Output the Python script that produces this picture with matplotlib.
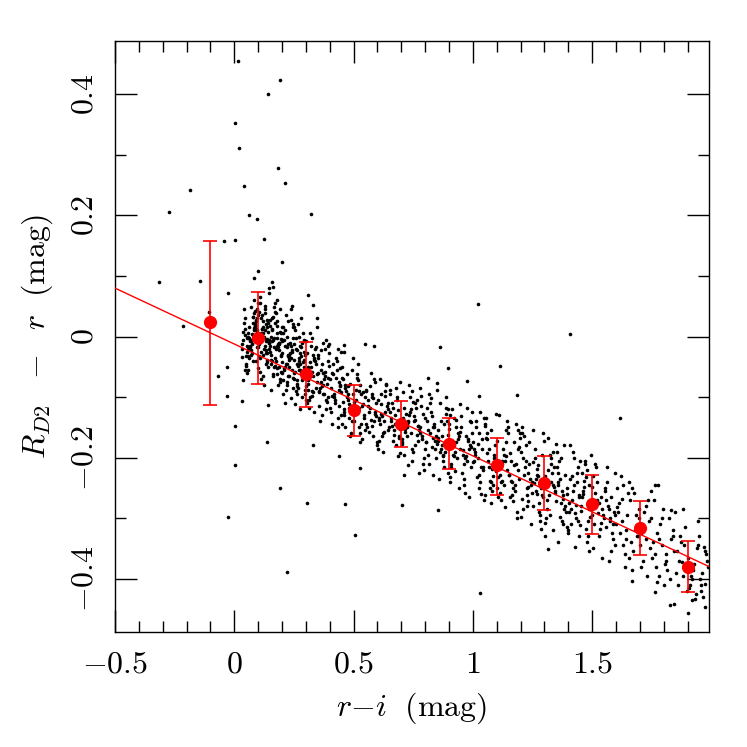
import matplotlib
matplotlib.use("Agg")
import matplotlib.pyplot as plt
from matplotlib.ticker import MultipleLocator, FuncFormatter
import numpy as np

# binned means (red points) with lower / upper ends of the error bars
bin_x = [-0.1, 0.1, 0.3, 0.5, 0.7, 0.9, 1.1, 1.3, 1.5, 1.7, 1.9]
bin_y = [0.024, -0.002, -0.062, -0.121, -0.144, -0.177, -0.213, -0.242, -0.277, -0.316, -0.380]
bin_lo = [-0.113, -0.079, -0.116, -0.164, -0.182, -0.219, -0.261, -0.287, -0.326, -0.361, -0.422]
bin_hi = [0.158, 0.073, -0.009, -0.080, -0.107, -0.134, -0.167, -0.197, -0.229, -0.271, -0.338]

# linear fit: slope, intercept
fit_slope = -0.1847
fit_icpt = -0.0124

# individual stars, "r-i,R-r" in milli-mag
band_mmag = """
44,12 33,-20 47,30 38,-5 41,45 35,8 49,-32 40,22 31,-12 46,2
63,15 91,-40 56,5 79,32 97,-18 70,48 52,-3 86,20 74,-28 94,10 59,-55 81,38 67,-8
89,25 54,-15 77,2 99,55 61,-35 84,14 72,-22 95,30 65,-5 51,-48 88,18 76,-12
87,42 58,0 72,-30 95,8 53,-60 80,22 66,-18 98,35 61,-2 77,-40 90,12 55,-25 83,60
69,-8 93,28 51,-45 75,4 64,-15 86,18 59,-32 96,45 71,-6 81,10 56,-20 78,32
124,-2 102,40 139,-38 115,12 146,-20 107,65 131,-8 119,25 143,-50 111,5 135,-28 127,50
104,-12 148,18 121,-65 113,30 137,-4 109,-35 129,10 144,72 101,-18 117,35 133,-45 123,0 141,22
113,-25 141,8 106,-58 129,45 147,-10 120,15 102,-32 136,28 124,-80 144,-6 109,55 131,-22
117,12 139,-42 104,2 127,38 149,-15 111,-70 134,20 122,-30 145,80 115,-2 101,-52 138,16 126,-20
112,-5 127,-15 138,-28 144,-10 121,6
187,-10 158,30 172,-48 195,5 153,-30 180,60 166,-18 198,15 161,-62 177,-2 190,45 155,-38
183,-12 169,22 193,-75 151,-25 175,38 164,-5 186,-50 159,10 196,-30 171,55 181,-15 156,-88 178,25
174,-40 152,0 189,-22 165,48 196,-58 157,-8 181,18 169,-35 193,-70 161,32 185,-18 177,5
154,-45 198,-28 171,40 163,-65 187,-10 159,12 179,-52 194,-32 151,28 167,-2 183,-80 173,-20 191,8
166,-50 178,-62 188,-12 194,-4 157,-40
213,-15 241,-55 206,15 229,-30 247,-85 220,0 202,-42 236,28 224,-65 244,-22 209,-5 231,-50
217,35 239,-35 204,-95 227,-12 249,-60 211,10 234,-28 222,-75 245,20 215,-45 201,-8 238,-102 226,-32
237,45 208,-55 222,-18 245,-68 203,5 230,-38 216,-88 248,-2 211,-50 227,25 240,-25 205,-72
233,-10 219,-45 243,50 201,-60 225,-30 214,-110 236,-15 209,-52 246,15 221,-80 231,-35 206,-5 228,-65
274,-28 252,-70 289,5 265,-45 296,-95 257,-20 281,-60 269,20 293,-38 261,-82 285,-10 277,-55
254,-112 298,-30 271,0 263,-72 287,-42 259,-90 279,-18 294,-62 251,15 267,-48 283,-100 273,-35 291,-5
263,-78 291,-25 256,-58 279,30 297,-88 270,-40 252,-12 286,-68 274,-120 294,-50 259,-2 281,-32
267,-85 289,-60 254,10 277,-45 299,-105 261,-22 284,-72 272,-55 295,-8 265,-95 251,-38 288,-66 276,-15
337,-40 308,-88 322,-15 345,-62 303,-110 330,-30 316,5 348,-75 311,-50 327,-98 340,-20 305,-68
333,-125 319,-42 343,-85 301,-8 325,-58 314,-105 336,-35 309,-78 346,15 321,-50 331,-92 306,-28 328,-65
313,-118 341,-45 302,-82 324,-2 349,-60 318,-100 335,-38 307,-72 344,-18 326,-90 310,-55
374,-80 352,-30 389,-108 365,-55 396,-12 357,-92 381,-65 369,-130 393,-40 361,-85 385,-5 377,-70
354,-115 398,-48 371,-95 363,-22 387,-78 359,-140 379,-58 394,-100 351,-35 367,-82 383,-120 373,-60 391,-15
356,-90 392,-68 368,-45 384,-105 362,-75 397,-28 378,-95
413,-62 441,-115 406,-85 429,-40 447,-130 420,-95 402,-70 436,-20 424,-110 444,-82 409,-145 431,-55
417,-100 439,-75 404,-125 427,-35 449,-92 411,-60 434,-150 422,-105 445,-80 415,-45 401,-118 438,-88 426,-68
433,-135 408,-98 442,-52
487,-78 458,-130 472,-100 495,-55 453,-145 480,-112 466,-85 498,-35 461,-125 477,-95 490,-160 455,-70
483,-118 469,-90 493,-140 451,-50 475,-105 464,-80 486,-165 459,-120 496,-95 471,-62 481,-135 456,-108 478,-82
463,-150 489,-115 452,-68
524,-90 502,-140 539,-112 515,-62 546,-155 507,-120 531,-95 519,-45 543,-135 511,-105 535,-170 527,-80
504,-128 548,-100 521,-150 513,-68 537,-115 509,-88 529,-175 544,-130 501,-108 517,-72 533,-145 523,-118 541,-92
526,-160
563,-125 591,-75 556,-150 579,-100 597,-180 570,-118 552,-88 586,-140 574,-60 594,-132 559,-105 581,-165
567,-82 589,-125 554,-145 577,-95 599,-175 561,-115 584,-70 572,-138 595,-110 565,-158 551,-90 588,-128 576,-148
583,-102
637,-80 608,-135 622,-160 645,-110 603,-185 630,-125 616,-95 648,-150 611,-70 627,-140 640,-115 605,-172
633,-90 619,-132 643,-155 601,-105 625,-190 614,-128 636,-78 609,-145 646,-120 621,-165 631,-98 606,-138 628,-158
613,-112
674,-130 652,-88 689,-165 665,-118 696,-192 657,-140 681,-100 669,-155 693,-75 661,-148 685,-122 677,-180
654,-95 698,-138 671,-162 663,-110 687,-198 659,-135 679,-85 694,-152 651,-125 667,-172 683,-105 673,-145 691,-168
713,-118 741,-160 706,-92 729,-140 747,-185 720,-128 702,-170 736,-100 724,-150 744,-205 709,-135 731,-80
717,-158 739,-120 704,-178 727,-142 749,-108 711,-195 734,-130 722,-165 745,-90 715,-152 701,-175 738,-125 726,-145
787,-170 758,-110 772,-148 795,-200 753,-132 780,-85 766,-162 798,-185 761,-118 777,-150 790,-210 755,-140
783,-98 769,-172 793,-128 751,-190 775,-155 764,-105 786,-165 759,-138 796,-220 771,-148 781,-115 756,-180 778,-160
824,-125 802,-175 839,-150 815,-95 846,-200 807,-140 831,-168 819,-110 843,-185 811,-155 835,-228 827,-132
804,-175 848,-88 821,-160 813,-195 837,-145 809,-118 829,-182 844,-165 801,-135 817,-210 833,-150 823,-102 841,-172
863,-190 891,-140 856,-168 879,-215 897,-120 870,-180 852,-155 886,-100 874,-198 894,-162 859,-235 881,-145
867,-185 889,-128 854,-172 877,-205 899,-152 861,-110 884,-190 872,-165 895,-225 865,-140 851,-178 888,-118 876,-195
937,-160 908,-210 922,-135 945,-185 903,-240 930,-150 916,-195 948,-112 911,-172 927,-222 940,-165 905,-130
933,-200 919,-180 943,-250 901,-145 925,-190 914,-120 936,-170 909,-215 946,-158 921,-198 931,-138 906,-232 928,-175
974,-205 952,-150 989,-180 965,-235 996,-125 957,-195 981,-170 969,-258 993,-142 961,-210 985,-185 977,-118
954,-225 998,-160 971,-198 963,-245 987,-140 959,-188 979,-172 994,-215 951,-132 967,-200 983,-265 973,-165 991,-182
1013,-150 1041,-215 1006,-185 1029,-240 1047,-135 1020,-200 1002,-175 1036,-260 1024,-160 1044,-220 1009,-195
1031,-125 1017,-232 1039,-170 1004,-205 1027,-250 1049,-148 1011,-190 1034,-215 1022,-178 1045,-270 1015,-140
1001,-208 1038,-185 1026,-228
1087,-195 1058,-160 1072,-238 1095,-210 1053,-145 1080,-255 1066,-185 1098,-222 1061,-170 1077,-275 1090,-200
1055,-135 1083,-245 1069,-215 1093,-180 1051,-262 1075,-155 1064,-205 1086,-230 1059,-192 1096,-128 1071,-250
1081,-218 1056,-168 1078,-240
1124,-205 1102,-250 1139,-175 1115,-228 1146,-150 1107,-265 1131,-195 1119,-240 1143,-140 1111,-215 1135,-282
1127,-185 1104,-232 1148,-160 1121,-210 1113,-258 1137,-198 1109,-130 1129,-245 1144,-220 1101,-172 1117,-270
1133,-205 1123,-238 1141,-155
1163,-240 1191,-185 1156,-265 1179,-210 1197,-160 1170,-250 1152,-228 1186,-290 1174,-175 1194,-235 1159,-205
1181,-145 1167,-272 1189,-220 1154,-192 1177,-255 1199,-168 1161,-238 1184,-300 1172,-212 1195,-182 1165,-262
1151,-228 1188,-155 1176,-245
1237,-210 1208,-268 1222,-180 1245,-245 1203,-298 1230,-225 1216,-165 1248,-258 1211,-200 1227,-280 1240,-235
1205,-150 1233,-248 1219,-215 1243,-310 1201,-190 1225,-262 1214,-228 1236,-175 1209,-285 1246,-240 1221,-205
1231,-272 1206,-160 1228,-250
1274,-230 1252,-280 1289,-195 1265,-255 1296,-160 1257,-242 1281,-305 1269,-218 1293,-265 1261,-185 1285,-250
1277,-290 1254,-208 1298,-172 1271,-260 1263,-235 1287,-318 1259,-200 1279,-275 1294,-245 1251,-155 1267,-228
1283,-295 1273,-212 1291,-262
1313,-270 1341,-215 1306,-300 1329,-240 1347,-178 1320,-262 1302,-230 1336,-320 1324,-195 1344,-255 1309,-285
1331,-225 1317,-168 1339,-248 1304,-308 1327,-210 1349,-272 1311,-238 1334,-190 1322,-295 1345,-258 1315,-220
1301,-330 1338,-245 1326,-200
1387,-280 1358,-225 1372,-305 1395,-250 1353,-190 1380,-268 1366,-235 1398,-325 1361,-205 1377,-262 1390,-290
1355,-240 1383,-180 1369,-275 1393,-315 1351,-215 1375,-255 1364,-298 1386,-228 1359,-340 1396,-260 1371,-200
1381,-285 1356,-245 1378,-310
1424,-245 1402,-290 1439,-215 1415,-270 1446,-330 1407,-235 1431,-300 1419,-190 1443,-262 1411,-285 1435,-225
1427,-348 1404,-275 1448,-205 1421,-255 1413,-310 1437,-240 1409,-180 1429,-292 1444,-265 1401,-320 1417,-230
1433,-278 1423,-200 1441,-305
1463,-255 1491,-298 1456,-225 1479,-340 1497,-275 1470,-210 1452,-288 1486,-245 1474,-318 1494,-195 1459,-265
1481,-305 1467,-238 1489,-355 1454,-280 1477,-220 1499,-295 1461,-260 1484,-330 1472,-205 1495,-272 1465,-248
1451,-312 1488,-285 1476,-232
1537,-265 1508,-310 1522,-240 1545,-295 1503,-350 1530,-275 1516,-215 1548,-300 1511,-258 1527,-330
1540,-285 1505,-230 1533,-318 1519,-270 1543,-365 1501,-248 1525,-292 1514,-210 1536,-308 1509,-280
1574,-300 1552,-255 1589,-335 1565,-280 1596,-225 1557,-315 1581,-265 1569,-370 1593,-290 1561,-240
1585,-325 1577,-305 1554,-250 1598,-345 1571,-285 1563,-215 1587,-310 1559,-270 1579,-355 1594,-295
1613,-275 1641,-320 1606,-250 1629,-345 1647,-295 1620,-230 1602,-310 1636,-380 1624,-268 1644,-335
1609,-290 1631,-245 1617,-325 1639,-360 1604,-282 1627,-305 1649,-258
1687,-330 1658,-270 1672,-355 1695,-300 1653,-240 1680,-320 1666,-385 1698,-285 1661,-340 1677,-258
1690,-312 1655,-365 1683,-295 1669,-250 1693,-330
1724,-280 1702,-345 1739,-305 1715,-370 1746,-255 1707,-325 1731,-395 1719,-290 1743,-350 1711,-310
1735,-270 1727,-335 1704,-380 1748,-300
1763,-360 1791,-300 1756,-340 1779,-395 1797,-285 1770,-325 1752,-365 1786,-310 1774,-405 1794,-345
1759,-270 1781,-335 1767,-380
1837,-320 1808,-370 1822,-300 1845,-355 1803,-410 1830,-335 1816,-385 1848,-290 1811,-360 1827,-400
1840,-330 1805,-375
1874,-340 1852,-390 1889,-315 1865,-370 1896,-420 1857,-355 1881,-395 1869,-330 1893,-380 1861,-410
1885,-345 1877,-372
1913,-395 1941,-350 1906,-415 1929,-375 1947,-330 1920,-400 1902,-365 1936,-425 1924,-385 1944,-345
1909,-410
1987,-380 1958,-420 1972,-355 1953,-400 1980,-370 1966,-430 1961,-390 1977,-360 1955,-410
"""

# stars well off the main sequence
outlier_mmag = """
14,455 191,423 143,400 4,352 18,312 182,278 42,249 212,253 -187,242 -273,206
60,201 94,194 322,202 -45,157 3,160 126,161 199,123 -316,90 -144,92 -26,72
83,96 98,108 -214,18 -105,40 310,68 329,52 346,30 158,90 161,82
-67,-65 -32,-51 -32,-99 3,-147 3,-213 -25,-298 31,-107 38,-72 34,-34 46,-56
139,-174 143,-113 193,-250 223,-389 304,-275 328,-179 465,-276 504,-328 437,-198 525,-217
705,-279 713,-229 729,-213 775,-225 371,-10 381,-21 448,-26 458,-14 462,-26 550,-13 584,-15
1023,54 1409,4 864,-18 894,-52 1113,-48 976,-73 811,-69 850,-77 1185,-96 1024,-98
1619,-135 1028,-424 853,-287 1317,-351 1667,-403 1765,-422 1826,-444 1842,-442 1903,-456 1919,-435
1933,-433 1974,-447 1943,-305 1969,-347 1974,-409 1881,-285 1831,-287 1762,-245 1776,-245
"""


def parse(block):
  return np.array([p.split(',') for p in block.split()], dtype=float) / 1000.


band = parse(band_mmag)
outl = parse(outlier_mmag)
stars = np.vstack([band, outl])

plt.rcParams['mathtext.fontset'] = 'cm'
plt.rcParams['font.family'] = 'serif'
plt.rcParams['font.size'] = 23

fig = plt.figure(figsize=(7.47, 7.47), dpi=100)
ax = fig.add_axes([115/747, 1-632/747, 594/747, 591/747])

ax.plot(stars[:, 0], stars[:, 1], 'o', color='black', ms=2.6, mew=0, zorder=2)

ax.axline((0, fit_icpt), slope=fit_slope, color='#ff0000', lw=1.0, zorder=3)

by = np.array(bin_y)
yerr = [by - np.array(bin_lo), np.array(bin_hi) - by]
ax.errorbar(bin_x, bin_y, yerr=yerr, fmt='o', color='#ff0000', ms=8.5,
            elinewidth=1.2, capsize=5, capthick=1.2, zorder=4)

ax.set_xlim(-0.5, 1.99)
ax.set_ylim(-0.488, 0.488)

ax.xaxis.set_major_locator(MultipleLocator(0.5))
ax.xaxis.set_minor_locator(MultipleLocator(0.1))
ax.yaxis.set_major_locator(MultipleLocator(0.2))
ax.yaxis.set_minor_locator(MultipleLocator(0.1))
fmt = FuncFormatter(lambda v, pos: '$%g$' % round(v, 2))
ax.xaxis.set_major_formatter(fmt)
ax.yaxis.set_major_formatter(fmt)

ax.tick_params(which='both', direction='in', top=True, right=True, width=1.0)
ax.tick_params(which='major', length=15.5)
ax.tick_params(which='minor', length=7.7)
ax.tick_params(axis='x', pad=12)
ax.tick_params(axis='y', pad=11, labelrotation=90)
plt.setp(ax.get_yticklabels(), va='center')
for s in ax.spines.values():
  s.set_linewidth(1.0)

ax.set_xlabel(r'$r{-}i\ \ \mathrm{(mag)}$', labelpad=8)
ax.set_ylabel(r'$R_{D2}\ \ -\ \ r\ \ \mathrm{(mag)}$', labelpad=10)

fig.savefig('out.png', dpi=100)
